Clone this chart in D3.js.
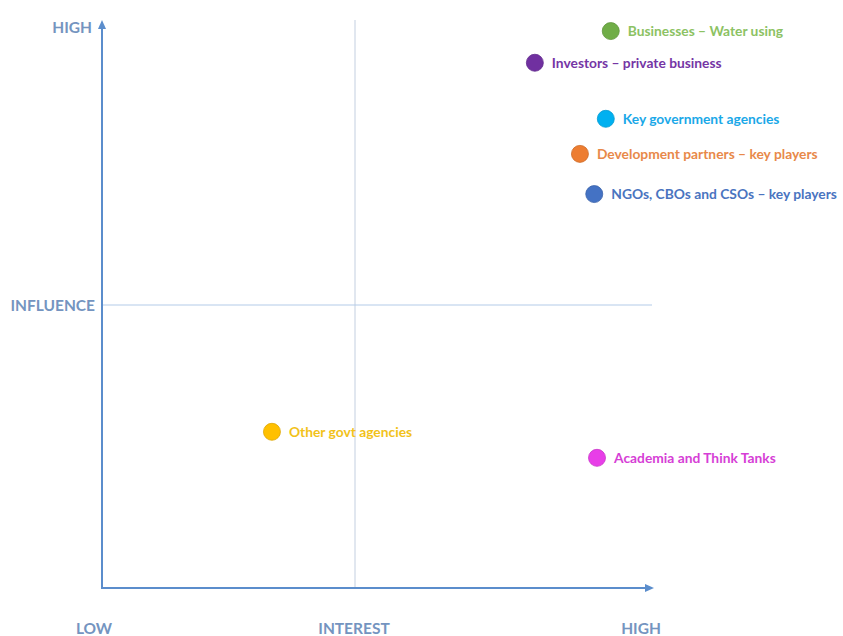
<!DOCTYPE html>
<html>
<head>
<meta charset="utf-8">
<script src="https://cdn.jsdelivr.net/npm/d3@7"></script>
<style>
  body { margin: 0; background: #fff; }
  text { font-family: Lato, "Open Sans", sans-serif; }
</style>
</head>
<body>
<div id="chart"></div>
<script>
// stakeholder names, interest (x) and influence (y) on a 0-10 scale
var stakeholders = ["Businesses \u2013 Water using", "Investors \u2013 private business",
  "Key government agencies", "Development partners \u2013 key players",
  "NGOs, CBOs and CSOs \u2013 key players", "Other govt agencies", "Academia and Think Tanks"];
var interest  = [9.25, 7.87, 9.16, 8.69, 8.95, 3.09, 9.0];
var influence = [9.84, 9.28, 8.29, 7.67, 6.96, 2.76, 2.30];
var dotColors  = ["#70ad47", "#7030a0", "#00b0f0", "#ed7d31", "#4472c4", "#ffc000", "#e83ee8"];
var textColors = ["#8cc263", "#7535a5", "#1aa8e8", "#e8894a", "#4a74c0", "#f2c21a", "#d63ed6"];

var midInterest = 4.6, midInfluence = 5;
var axisLabels = { yHigh: "HIGH", yMid: "INFLUENCE", xLow: "LOW", xMid: "INTEREST", xHigh: "HIGH" };

var width = 843, height = 636;
var margin = {top: 22, right: 191, bottom: 48, left: 102};

var svg = d3.select("#chart").append("svg")
  .attr("width", width)
  .attr("height", height);

var x = d3.scaleLinear().domain([0, 10]).range([margin.left, width - margin.right]);
var y = d3.scaleLinear().domain([0, 10]).range([height - margin.bottom, margin.top]);

var axisColor = "#5b8dcc", midColor = "#b3cbe8", labelColor = "#7494c0";

// quadrant divider lines
svg.append("line")
  .attr("x1", x(midInterest)).attr("x2", x(midInterest))
  .attr("y1", y(10) - 2).attr("y2", y(0))
  .attr("stroke", "#c3cfe0").attr("stroke-width", 1);
svg.append("line")
  .attr("x1", x(0)).attr("x2", x(10))
  .attr("y1", y(midInfluence)).attr("y2", y(midInfluence))
  .attr("stroke", midColor).attr("stroke-width", 1);

// axes with arrow heads
svg.append("line")
  .attr("x1", x(0)).attr("x2", x(0))
  .attr("y1", y(0) + 1).attr("y2", y(10) + 4)
  .attr("stroke", axisColor).attr("stroke-width", 2);
svg.append("line")
  .attr("x1", x(0) - 1).attr("x2", x(10) - 4)
  .attr("y1", y(0)).attr("y2", y(0))
  .attr("stroke", axisColor).attr("stroke-width", 2);
svg.append("path")
  .attr("d", "M" + (x(0) - 4) + "," + (y(10) + 7) + "L" + x(0) + "," + (y(10) - 2) + "L" + (x(0) + 4) + "," + (y(10) + 7) + "Z")
  .attr("fill", axisColor);
svg.append("path")
  .attr("d", "M" + (x(10) - 7) + "," + (y(0) - 4) + "L" + (x(10) + 2) + "," + y(0) + "L" + (x(10) - 7) + "," + (y(0) + 4) + "Z")
  .attr("fill", axisColor);

// axis labels
var lab = svg.append("g")
  .attr("fill", labelColor)
  .attr("font-size", 15.5)
  .attr("font-weight", "bold");
lab.append("text").attr("x", x(0) - 10).attr("y", y(10) + 11).attr("text-anchor", "end").text(axisLabels.yHigh);
lab.append("text").attr("x", x(0) - 7).attr("y", y(midInfluence) + 6).attr("text-anchor", "end").text(axisLabels.yMid);
lab.append("text").attr("x", x(0) - 8).attr("y", height - 2).attr("text-anchor", "middle").text(axisLabels.xLow);
lab.append("text").attr("x", x(midInterest) - 1).attr("y", height - 2).attr("text-anchor", "middle").text(axisLabels.xMid);
lab.append("text").attr("x", x(10) - 11).attr("y", height - 2).attr("text-anchor", "middle").text(axisLabels.xHigh);

// stakeholder points
var pts = svg.selectAll("g.pt")
  .data(d3.range(stakeholders.length))
  .enter().append("g")
  .attr("class", "pt")
  .attr("transform", function(i) { return "translate(" + x(interest[i]) + "," + y(influence[i]) + ")"; });

pts.append("circle")
  .attr("r", 8.5)
  .attr("fill", function(i) { return dotColors[i]; })
  .attr("stroke", function(i) { return d3.color(dotColors[i]).darker(0.4); })
  .attr("stroke-width", 0.8);

pts.append("text")
  .attr("x", 17)
  .attr("y", 5)
  .attr("font-size", 13.8)
  .attr("font-weight", "bold")
  .attr("fill", function(i) { return textColors[i]; })
  .text(function(i) { return stakeholders[i]; });
</script>
</body>
</html>
